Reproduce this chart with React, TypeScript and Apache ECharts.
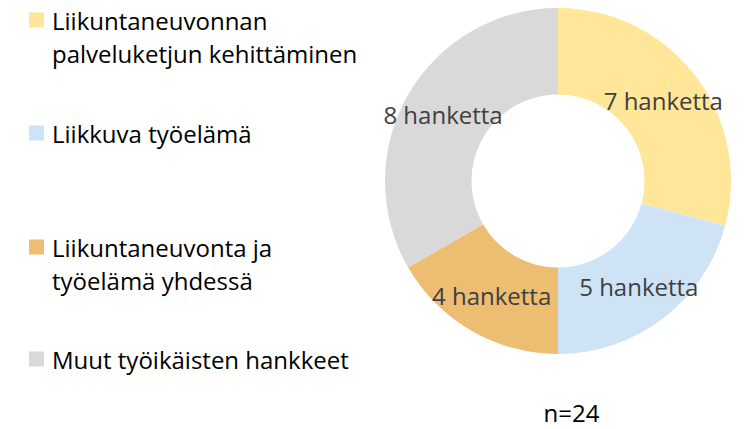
import React, { useEffect, useRef } from "react";
import * as echarts from "echarts";

const categories = [
  "Liikuntaneuvonnan palveluketjun kehittäminen",
  "Liikkuva työelämä",
  "Liikuntaneuvonta ja työelämä yhdessä",
  "Muut työikäisten hankkeet",
];
const legendLines = [
  ["Liikuntaneuvonnan", "palveluketjun kehittäminen"],
  ["Liikkuva työelämä"],
  ["Liikuntaneuvonta ja", "työelämä yhdessä"],
  ["Muut työikäisten hankkeet"],
];
const values = [7, 5, 4, 8];
const colors = ["#FFE699", "#CFE3F6", "#EDBD72", "#D9D9D9"];
const unitLabel = "hanketta";
const totalLabel = "n=24";

const FONT = "'Open Sans', sans-serif";

export default function App() {
  const ref = useRef<HTMLDivElement>(null);
  useEffect(() => {
    if (!ref.current) return;
    const chart = echarts.init(ref.current, null, { renderer: "svg" });
    const legendTops = [20, 133, 247, 359];
    const graphics: any[] = [];
    legendLines.forEach((lines, i) => {
      const cy = legendTops[i];
      graphics.push({
        type: "rect",
        left: 29,
        top: cy - 7.5,
        shape: { width: 15, height: 15 },
        style: { fill: colors[i] },
      });
      graphics.push({
        type: "text",
        x: 52,
        y: cy - 16.5,
        style: {
          text: lines.join("\n"),
          font: `24px ${FONT}`,
          lineHeight: 33,
          fill: "#000000",
          align: "left",
          verticalAlign: "top",
        },
      });
    });
    graphics.push({
      type: "text",
      x: 571.5,
      y: 412,
      style: {
        text: totalLabel,
        font: `24px ${FONT}`,
        fill: "#000000",
        align: "center",
        verticalAlign: "middle",
      },
    });
    chart.setOption({
      animation: false,
      backgroundColor: "#ffffff",
      graphic: graphics,
      series: [
        {
          type: "pie",
          center: [558, 181],
          radius: [86.5, 173],
          startAngle: 90,
          clockwise: true,
          avoidLabelOverlap: false,
          label: {
            show: true,
            position: "inside",
            formatter: (p: any) => `${p.value} ${unitLabel}`,
            color: "#404040",
            fontFamily: FONT,
            fontSize: 24,
          },
          labelLine: { show: false },
          emphasis: { disabled: true },
          itemStyle: { borderWidth: 0 },
          data: categories.map((name, i) => ({
            name,
            value: values[i],
            itemStyle: { color: colors[i] },
          })),
        },
      ],
    });
    return () => chart.dispose();
  }, []);
  return (
    <div
      ref={ref}
      style={{ position: "fixed", left: 0, top: 0, width: 752, height: 429 }}
    />
  );
}
